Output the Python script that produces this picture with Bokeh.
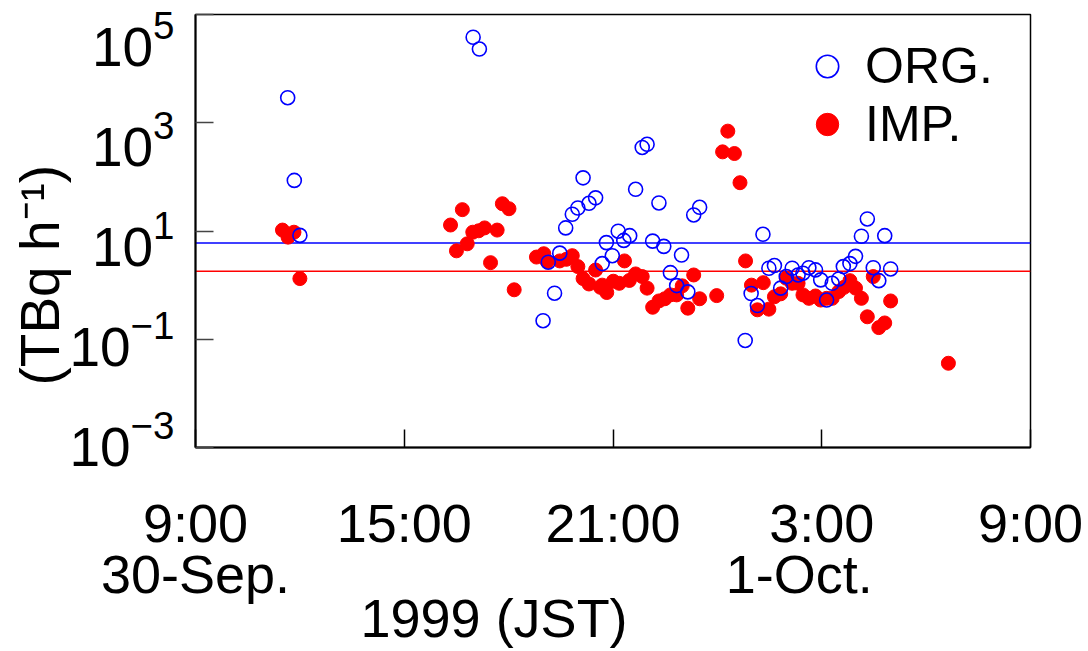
from bokeh.plotting import figure
from bokeh.models import (Range1d, FixedTicker, Span, Legend, LegendItem, LogAxis, LogScale,
                          CustomJSTickFormatter, Title)
from bokeh.embed import file_html
from bokeh.resources import INLINE

# Time axis: hours counted from 0:00 JST on 30 Sep 1999 (9 = 9:00 30-Sep, 33 = 9:00 1-Oct)
org_hours = [11.65, 11.84, 12.00, 16.98, 17.16, 18.99, 19.14, 19.32, 19.47, 19.64,
             19.83, 19.99, 20.14, 20.31, 20.50, 20.69, 20.81, 20.98, 21.15, 21.31,
             21.48, 21.65, 21.84, 21.98, 22.14, 22.32, 22.46, 22.65, 22.83, 22.97,
             23.15, 23.32, 23.49, 24.80, 24.97, 25.15, 25.31, 25.48, 25.64, 25.82,
             25.98, 26.15, 26.32, 26.46, 26.63, 26.82, 26.97, 27.14, 27.30, 27.49,
             27.62, 27.81, 27.97, 28.14, 28.31, 28.48, 28.64, 28.81, 28.98]
org_tbq = [2900, 86, 8.3, 38000, 23000, 0.22, 2.65, 0.71, 3.9, 11.4,
           20.4, 26.6, 96, 32.5, 41, 2.5, 6.1, 3.5, 9.9, 6.7,
           8.2, 59, 350, 400, 6.5, 33, 5.2, 1.7, 0.98, 3.6,
           0.75, 19.8, 27.4, 0.095, 0.70, 0.42, 8.7, 2.05, 2.3, 0.88,
           1.44, 2.05, 1.54, 1.66, 2.1, 1.91, 1.25, 0.53, 1.08, 1.3,
           2.2, 2.5, 3.4, 8.0, 16.7, 2.1, 1.21, 8.2, 1.99]

imp_hours = [11.50, 11.66, 11.83, 12.00, 16.33, 16.50, 16.67, 16.81, 16.97, 17.14,
             17.31, 17.48, 17.67, 17.82, 18.01, 18.16, 18.80, 19.01, 19.11, 19.47,
             19.66, 19.83, 19.99, 20.14, 20.31, 20.50, 20.64, 20.69, 20.82, 21.01,
             21.18, 21.33, 21.47, 21.65, 21.84, 21.98, 22.14, 22.32, 22.49, 22.65,
             22.83, 22.99, 23.15, 23.32, 23.49, 23.98, 24.15, 24.30, 24.49, 24.65,
             24.81, 24.98, 25.15, 25.32, 25.48, 25.64, 25.82, 25.98, 26.15, 26.32,
             26.46, 26.63, 26.82, 26.97, 27.14, 27.30, 27.49, 27.64, 27.81, 27.97,
             28.14, 28.31, 28.48, 28.64, 28.81, 28.98, 30.64]
imp_tbq = [10.4, 7.7, 9.5, 1.32, 12.9, 4.3, 24.8, 5.8, 9.5, 10.1,
           11.4, 2.6, 10.4, 31.9, 25.8, 0.82, 3.3, 3.8, 2.7, 2.8,
           3.0, 3.5, 2.2, 1.32, 1.05, 1.9, 0.91, 1.0, 0.73, 1.18,
           1.08, 2.8, 1.22, 1.61, 1.44, 0.88, 0.39, 0.51, 0.56, 0.66,
           0.66, 0.97, 0.375, 1.54, 0.56, 0.64, 290, 700, 270, 78,
           2.8, 1.0, 0.35, 1.11, 0.36, 0.61, 0.69, 1.34, 1.08, 1.08,
           0.66, 0.57, 0.63, 0.53, 0.57, 0.57, 0.76, 0.91, 1.21, 0.88,
           0.57, 0.26, 1.44, 0.164, 0.20, 0.51, 0.036]

org_level = 6.0   # reference level ORG. (TBq/h)
imp_level = 1.8   # reference level IMP. (TBq/h)

x_tick_hours = [9, 15, 21, 27, 33]
x_tick_labels = ["9:00\n30-Sep.", "15:00", "21:00", "3:00\n1-Oct.\u00a0\u00a0\u00a0", "9:00"]
y_tick_values = [1e-3, 1e-1, 1e1, 1e3, 1e5]
series_names = ["ORG.", "IMP."]
x_title = "1999 (JST)"
y_title = "(TBq h\u207b\u00b9)"

FONT = "Liberation Sans"

p = figure(frame_width=835, frame_height=433,
           min_border_left=195, min_border_right=58, min_border_top=14, min_border_bottom=204,
           x_range=Range1d(9, 33), y_range=Range1d(1e-3, 1e5), y_axis_type="log",
           output_backend="svg", toolbar_location=None,
           background_fill_color="white", border_fill_color="white")
p.xgrid.visible = False
p.ygrid.visible = False
p.outline_line_color = "black"
p.outline_line_width = 1.5

# bottom axis: times and dates
xa = p.xaxis[0]
xa.ticker = FixedTicker(ticks=x_tick_hours)
xa.major_label_overrides = dict(zip(x_tick_hours, x_tick_labels))
xa.major_label_text_font = FONT
xa.major_label_text_font_size = "54px"
xa.major_label_text_color = "black"
xa.major_label_text_line_height = 0.85
xa.major_label_standoff = 45
xa.major_tick_in = 18
xa.major_tick_out = 0
xa.minor_tick_in = 0
xa.minor_tick_out = 0
xa.major_tick_line_color = "black"
xa.major_tick_line_width = 1.5
xa.axis_line_color = "black"
xa.axis_line_width = 2

# left axis: inward ticks only
ya = p.yaxis[0]
ya.ticker = FixedTicker(ticks=y_tick_values)
ya.formatter = CustomJSTickFormatter(code="return ''")
ya.major_label_standoff = 0
ya.major_tick_in = 18
ya.major_tick_out = 0
ya.minor_tick_in = 0
ya.minor_tick_out = 0
ya.major_tick_line_color = "#444444"
ya.major_tick_line_width = 1.5
ya.axis_line_color = "black"
ya.axis_line_width = 2

# tick labels 10^n, laid out as in the original (slightly compressed toward the middle)
p.extra_y_ranges = {"labels": Range1d(10 ** -3.18, 10 ** 5.459)}
p.extra_y_scales = {"labels": LogScale()}
ylab = LogAxis(y_range_name="labels", ticker=FixedTicker(ticks=y_tick_values))
ylab.axis_line_color = None
ylab.major_tick_line_color = None
ylab.minor_tick_line_color = None
ylab.major_tick_in = 0
ylab.major_tick_out = 0
ylab.major_label_standoff = 21
ylab.major_label_text_font = FONT
ylab.major_label_text_font_size = "55px"
ylab.major_label_text_color = "black"
p.add_layout(ylab, "left")

p.add_layout(Title(text=y_title, align="left", offset=62, standoff=-8,
                   text_font=FONT, text_font_size="55px", text_font_style="normal",
                   text_color="black"), "left")
p.add_layout(Title(text=x_title, align="left", offset=165, standoff=-42,
                   text_font=FONT, text_font_size="54px", text_font_style="normal",
                   text_color="black"), "below")

p.add_layout(Span(location=org_level, dimension="width", line_color="#0000ff",
                  line_width=1.5, level="underlay"))
p.add_layout(Span(location=imp_level, dimension="width", line_color="#ff0000",
                  line_width=1.5, level="underlay"))

r_imp = p.scatter(imp_hours, imp_tbq, marker="circle", size=14,
                  fill_color="#ff0000", line_color="#ff0000")
r_org = p.scatter(org_hours, org_tbq, marker="circle", size=14,
                  fill_color=None, line_color="#0000ff", line_width=1.6)

legend = Legend(items=[LegendItem(label=series_names[0], renderers=[r_org]),
                       LegendItem(label=series_names[1], renderers=[r_imp])],
                location=(603, 294), orientation="vertical",
                glyph_width=58, glyph_height=56, label_height=56, label_standoff=9,
                spacing=-3, padding=0, margin=0,
                border_line_color=None, background_fill_alpha=0,
                label_text_font=FONT, label_text_font_size="50px",
                label_text_color="black")
p.add_layout(legend)

open("out.html", "w").write(file_html(p, INLINE))
